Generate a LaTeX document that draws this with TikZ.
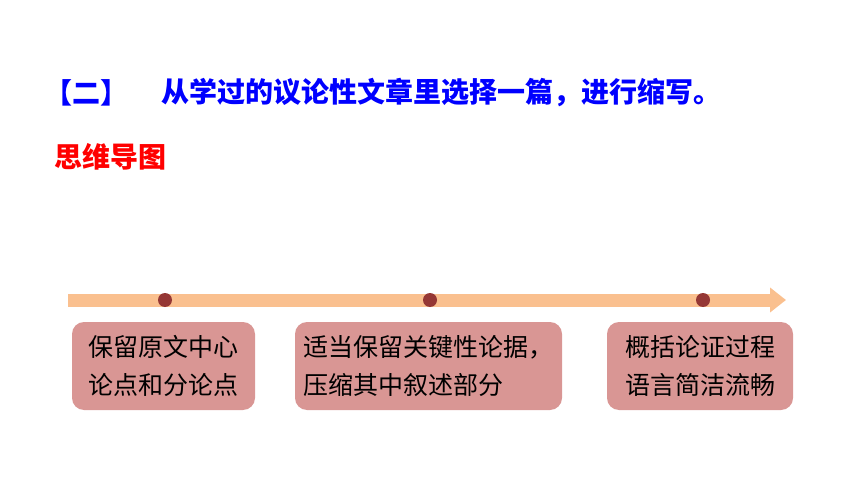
\documentclass[tikz,border=0pt]{standalone}
\usepackage{fontspec}
\newfontfamily\cjk{Noto Sans CJK SC}
\usetikzlibrary{arrows.meta}
\tikzset{>={Triangle[width=24pt,length=16pt]}}
\definecolor{titleblue}{HTML}{0000FF}
\definecolor{titlered}{HTML}{FF0000}
\definecolor{lineorange}{HTML}{FAC08F}
\definecolor{dotred}{HTML}{953735}
\definecolor{boxpink}{HTML}{D99694}
\tikzset{
  keydot/.style={circle, fill=dotred, inner sep=0pt, minimum size=14pt},
  stagebox/.style={rounded corners=12pt, fill=boxpink, minimum width=#1,
    minimum height=88pt, align=left, inner sep=0pt,
    font=\cjk\fontsize{25}{38}\selectfont},
  headline/.style={anchor=west, inner sep=0pt,
    font=\cjk\bfseries\fontsize{28}{28}\selectfont},
}

\begin{document}
\begin{tikzpicture}[x=1pt,y=1pt]
  \useasboundingbox (0,0) rectangle (860,-484);

  \node[headline, text=titleblue] (num) at (44,-93) {【二】};
  \node[headline, text=titleblue] (task) at (161,-93)
  {从学过的议论性文章里选择一篇，进行缩写。};
  \node[headline, text=titlered] (map) at (54,-157) {思维导图};

  % time line
  \coordinate (tail) at (68,-300);
  \coordinate (head) at (786,-300);
  \draw[->, line width=13pt, draw=lineorange, fill=lineorange] (tail) -- (head);

  \node[keydot] (d1) at (165,-300) {};
  \node[keydot] (d2) at (430,-300) {};
  \node[keydot] (d3) at (703,-300) {};

  \node[stagebox=183pt] (s1) at (163.5,-366) {保留原文中心\\论点和分论点};
  \node[stagebox=267pt] (s2) at (428.5,-366)
  {适当保留关键性论据，\\压缩其中叙述部分};
  \node[stagebox=186pt] (s3) at (700,-366) {概括论证过程\\语言简洁流畅};
\end{tikzpicture}
\end{document}
